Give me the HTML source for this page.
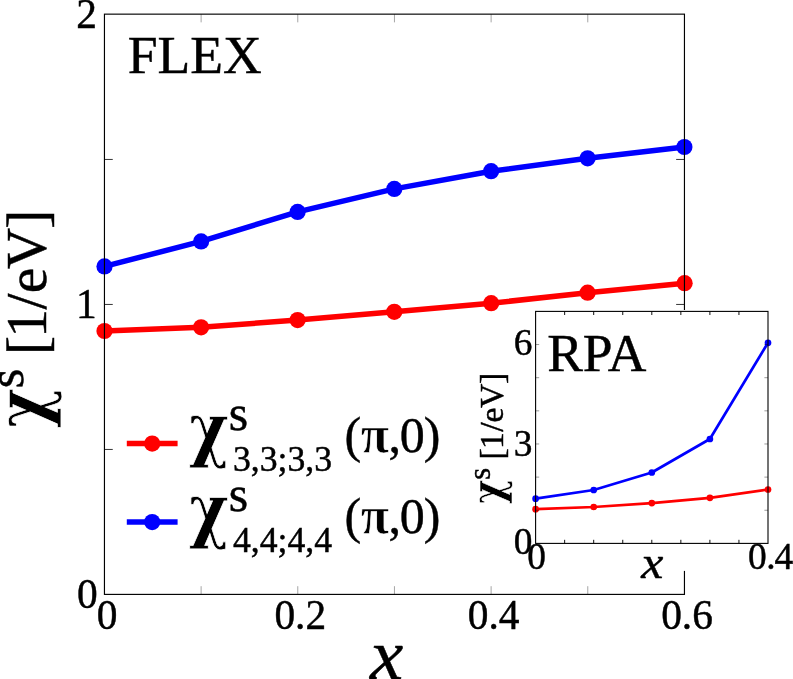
<!DOCTYPE html>
<html><head><meta charset="utf-8"><title>FLEX / RPA spin susceptibility</title>
<style>
html,body{margin:0;padding:0;background:#fff;}
svg{display:block;will-change:transform;}
text{font-family:"Liberation Serif",serif;fill:#000;stroke:#000;stroke-width:0.45px;}
.it{font-style:italic;}
.chi{font-family:"DejaVu Serif","Liberation Serif",serif;font-weight:bold;stroke:#fff;stroke-width:0.8px;}
</style></head><body>
<svg width="793" height="679" viewBox="0 0 793 679">
<rect x="0" y="0" width="793" height="679" fill="#fff"/>

<polyline points="104.5,266.4 201.1,241.4 297.6,211.9 394.3,188.9 491.1,171.2 587.6,158.3 684.4,147.0" fill="none" stroke="#0000ff" stroke-width="5.5" stroke-linejoin="round"/>
<polyline points="104.5,331.0 201.1,327.3 297.6,320.1 394.3,311.8 491.2,303.2 587.6,292.7 684.6,283.2" fill="none" stroke="#ff0000" stroke-width="5.5" stroke-linejoin="round"/>
<circle cx="104.5" cy="266.4" r="8.1" fill="#0000ff"/><circle cx="201.1" cy="241.4" r="8.1" fill="#0000ff"/><circle cx="297.6" cy="211.9" r="8.1" fill="#0000ff"/><circle cx="394.3" cy="188.9" r="8.1" fill="#0000ff"/><circle cx="491.1" cy="171.2" r="8.1" fill="#0000ff"/><circle cx="587.6" cy="158.3" r="8.1" fill="#0000ff"/><circle cx="684.4" cy="147.0" r="8.1" fill="#0000ff"/>
<circle cx="104.5" cy="331.0" r="8.1" fill="#ff0000"/><circle cx="201.1" cy="327.3" r="8.1" fill="#ff0000"/><circle cx="297.6" cy="320.1" r="8.1" fill="#ff0000"/><circle cx="394.3" cy="311.8" r="8.1" fill="#ff0000"/><circle cx="491.2" cy="303.2" r="8.1" fill="#ff0000"/><circle cx="587.6" cy="292.7" r="8.1" fill="#ff0000"/><circle cx="684.6" cy="283.2" r="8.1" fill="#ff0000"/>
<path d="M201.12 594.4 v-8.2 M201.12 14.15 v8.2 M297.78 594.4 v-8.2 M297.78 14.15 v8.2 M394.45 594.4 v-8.2 M394.45 14.15 v8.2 M491.12 594.4 v-8.2 M491.12 14.15 v8.2 M587.78 594.4 v-8.2 M587.78 14.15 v8.2" stroke="#000" stroke-width="0.36" fill="none"/>
<path d="M104.45 159.45 h8.3 M684.45 159.45 h-8.3 M104.45 304.45 h8.3 M684.45 304.45 h-8.3 M104.45 449.45 h8.3 M684.45 449.45 h-8.3" stroke="#000" stroke-width="0.8" fill="none"/>
<rect x="104.45" y="14.15" width="580.0" height="580.25" fill="none" stroke="#000" stroke-width="1.15"/>
<text x="97.6" y="608.4" font-size="41.4" text-anchor="end">0</text>
<text x="96.6" y="318.2" font-size="41.4" text-anchor="end">1</text>
<text x="96.9" y="28.0" font-size="41.4" text-anchor="end">2</text>
<text x="107.0" y="628.6" font-size="41.4" text-anchor="middle">0</text>
<text x="300.3" y="628.6" font-size="41.4" text-anchor="middle">0.2</text>
<text x="493.6" y="628.6" font-size="41.4" text-anchor="middle">0.4</text>
<text x="687.0" y="628.6" font-size="41.4" text-anchor="middle">0.6</text>
<text class="it" transform="translate(386.5,679) scale(1.04,1)" font-size="72" text-anchor="middle">x</text>
<text x="127.8" y="72.5" font-size="53.6">FLEX</text>
<text class="chi" transform="translate(46.2,428.0) rotate(-90) scale(0.854,1)" font-size="71">χ</text>
<text transform="translate(45.7,427.75) rotate(-90)" font-size="57.5"><tspan font-size="50" x="39.6" y="-22.8">s</tspan><tspan y="0" x="58.5" dx="0 0 -2.0 -0.45 0.2 -1.45 -1.1"> [1/eV]</tspan></text>
<line x1="126.8" x2="177.6" y1="443.6" y2="443.6" stroke="#ff0000" stroke-width="5.5"/>
<circle cx="152.2" cy="443.6" r="8.1" fill="#ff0000"/>
<text class="chi" transform="translate(188.9,452.5) scale(0.854,1)" font-size="71">χ</text>
<text x="228.8" y="429.6" font-size="50">s</text>
<text x="233" y="470.8" font-size="35.7">3,3;3,3</text>
<text y="452.0" font-size="50"><tspan x="344.5">(</tspan><tspan x="360.8" font-weight="bold" font-size="52" stroke="#fff" stroke-width="0.7">π</tspan><tspan x="388.6 399.7 423.7">,0)</tspan></text>
<line x1="126.8" x2="177.6" y1="522.1" y2="522.1" stroke="#0000ff" stroke-width="5.5"/>
<circle cx="152.2" cy="522.1" r="8.1" fill="#0000ff"/>
<text class="chi" transform="translate(188.9,533.5) scale(0.854,1)" font-size="71">χ</text>
<text x="228.8" y="510.6" font-size="50">s</text>
<text x="233" y="551.8" font-size="35.7">4,4;4,4</text>
<text y="533.0" font-size="50"><tspan x="344.5">(</tspan><tspan x="360.8" font-weight="bold" font-size="52" stroke="#fff" stroke-width="0.7">π</tspan><tspan x="388.6 399.7 423.7">,0)</tspan></text>
<rect x="510" y="310" width="283" height="260.9" fill="#fff"/>
<polyline points="535.6,498.7 593.7,490.0 651.8,472.5 709.9,439.0 768.0,342.8" fill="none" stroke="#0000ff" stroke-width="2.7" stroke-linejoin="round"/>
<polyline points="535.6,509.2 593.7,507.0 651.8,503.1 709.9,497.8 768.0,489.5" fill="none" stroke="#ff0000" stroke-width="2.7" stroke-linejoin="round"/>
<circle cx="535.6" cy="498.7" r="3.35" fill="#0000ff"/><circle cx="593.7" cy="490.0" r="3.35" fill="#0000ff"/><circle cx="651.8" cy="472.5" r="3.35" fill="#0000ff"/><circle cx="709.9" cy="439.0" r="3.35" fill="#0000ff"/><circle cx="768.0" cy="342.8" r="3.35" fill="#0000ff"/>
<circle cx="535.6" cy="509.2" r="3.35" fill="#ff0000"/><circle cx="593.7" cy="507.0" r="3.35" fill="#ff0000"/><circle cx="651.8" cy="503.1" r="3.35" fill="#ff0000"/><circle cx="709.9" cy="497.8" r="3.35" fill="#ff0000"/><circle cx="768.0" cy="489.5" r="3.35" fill="#ff0000"/>
<path d="M564.65 543.4 v-3.6 M564.65 311.4 v3.6 M593.70 543.4 v-3.6 M593.70 311.4 v3.6 M622.75 543.4 v-3.6 M622.75 311.4 v3.6 M651.80 543.4 v-3.6 M651.80 311.4 v3.6 M680.85 543.4 v-3.6 M680.85 311.4 v3.6 M709.90 543.4 v-3.6 M709.90 311.4 v3.6 M738.95 543.4 v-3.6 M738.95 311.4 v3.6" stroke="#000" stroke-width="0.95" fill="none"/>
<path d="M535.6 510.26 h3.6 M768.0 510.26 h-3.6 M535.6 477.11 h3.6 M768.0 477.11 h-3.6 M535.6 443.97 h3.6 M768.0 443.97 h-3.6 M535.6 410.83 h3.6 M768.0 410.83 h-3.6 M535.6 377.69 h3.6 M768.0 377.69 h-3.6 M535.6 344.54 h3.6 M768.0 344.54 h-3.6" stroke="#000" stroke-width="0.4" fill="none"/>
<rect x="535.6" y="311.4" width="232.39999999999998" height="232.0" fill="none" stroke="#000" stroke-width="1.1"/>
<text x="532.5" y="553.8" font-size="37.4" text-anchor="end">0</text>
<text x="532.5" y="456.0" font-size="37.4" text-anchor="end">3</text>
<text x="532.5" y="354.8" font-size="37.4" text-anchor="end">6</text>
<text x="536.5" y="569.1" font-size="37.4" text-anchor="middle">0</text>
<text x="748.1 766.2 774.6" y="569.0" font-size="37.4">0.4</text>
<text class="it" transform="translate(652.2,578) scale(1.06,1)" font-size="47" text-anchor="middle">x</text>
<text x="547.2" y="371.3" font-size="53.5">RPA</text>
<text class="chi" transform="translate(503.35,504.1) rotate(-90) scale(0.84,1)" font-size="44" style="stroke-width:0.5px">χ</text>
<text transform="translate(502.8,503.9) rotate(-90)" font-size="33.8"><tspan font-size="30.5" x="24.1" y="-13">s</tspan><tspan y="0" x="36.0" dx="0 0 -0.9 0.4 -0.1 -0.6 -0.35"> [1/eV]</tspan></text>
</svg></body></html>
